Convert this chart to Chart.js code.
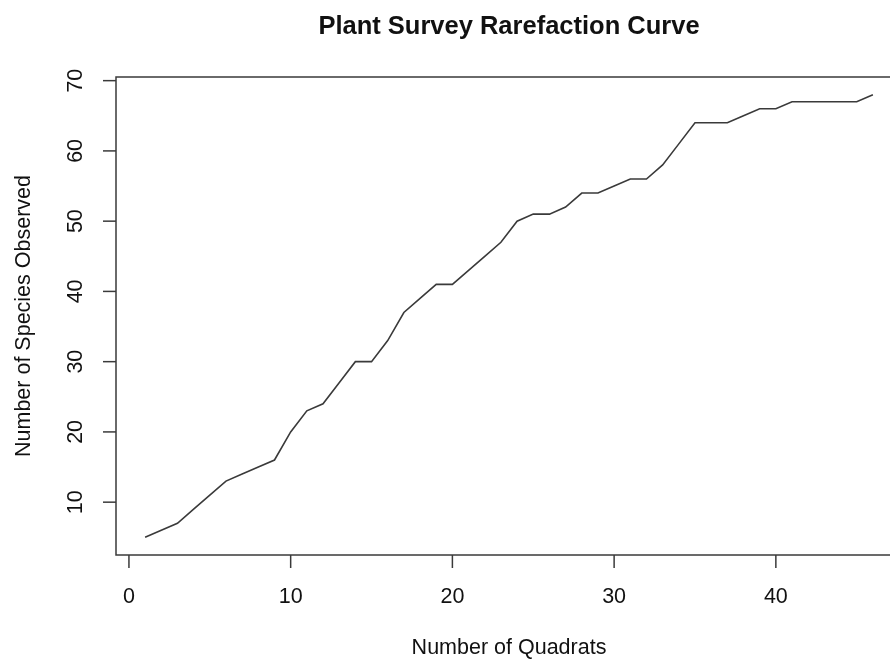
<!DOCTYPE html>
<html>
<head>
<meta charset="utf-8">
<title>Plant Survey Rarefaction Curve</title>
<script src="https://cdn.jsdelivr.net/npm/chart.js@4.4.1/dist/chart.umd.min.js"></script>
<style>
    html, body { margin: 0; padding: 0; background: #ffffff; overflow: hidden; }
    #graph { display: block; width: 930px; height: 661px; }
</style>
</head>
<body>
<canvas id="graph" width="930" height="661"></canvas>
<script>

// data lest av bildet
const quadrats = [1, 2, 3, 4, 5, 6, 7, 8, 9, 10, 11, 12, 13, 14, 15, 16, 17, 18, 19, 20, 21, 22, 23,
    24, 25, 26, 27, 28, 29, 30, 31, 32, 33, 34, 35, 36, 37, 38, 39, 40, 41, 42, 43, 44, 45, 46];
const species = [5, 6, 7, 9, 11, 13, 14, 15, 16, 20, 23, 24, 27, 30, 30, 33, 37, 39, 41, 41, 43, 45, 47,
    50, 51, 51, 52, 54, 54, 55, 56, 56, 58, 61, 64, 64, 64, 65, 66, 66, 67, 67, 67, 67, 67, 68];

const xTicks = [0, 10, 20, 30, 40];
const yTicks = [10, 20, 30, 40, 50, 60, 70];

const chartTitle = "Plant Survey Rarefaction Curve";
const xTitle = "Number of Quadrats";
const yTitle = "Number of Species Observed";

const fontFamily = '"Liberation Sans", Arial, Helvetica, sans-serif';
const ink = '#3a3a3a';

// R-stil: aksene strekker seg 4% utenfor dataene
function paddedRange(values) {
    const lo = Math.min(...values);
    const hi = Math.max(...values);
    const pad = (hi - lo) * 0.04;
    return [lo - pad, hi + pad];
}
const xRange = paddedRange(quadrats);
const yRange = paddedRange(species);

// tegner ramme, tick-merker, tall og titler i R-stil
const baseGraphicsPlugin = {
    id: 'baseGraphics',
    afterDraw(chart) {
        const ctx = chart.ctx;
        const area = chart.chartArea;
        const xs = chart.scales.x;
        const ys = chart.scales.y;

        ctx.save();
        ctx.strokeStyle = ink;
        ctx.fillStyle = '#111111';
        ctx.lineWidth = 1.5;

        // ramme (høyre kant havner utenfor bildet)
        ctx.strokeRect(area.left, area.top, area.right - area.left, area.bottom - area.top);

        // x-akse
        ctx.font = '21.5px ' + fontFamily;
        ctx.textAlign = 'center';
        ctx.textBaseline = 'middle';
        for (const t of xTicks) {
            const px = xs.getPixelForValue(t);
            ctx.beginPath();
            ctx.moveTo(px, area.bottom);
            ctx.lineTo(px, area.bottom + 13);
            ctx.stroke();
            ctx.fillText(String(t), px, 597);
        }

        // y-akse, tallene er rotert som i R
        for (const t of yTicks) {
            const py = ys.getPixelForValue(t);
            ctx.beginPath();
            ctx.moveTo(area.left, py);
            ctx.lineTo(area.left - 13, py);
            ctx.stroke();
            ctx.save();
            ctx.translate(76, py);
            ctx.rotate(-Math.PI / 2);
            ctx.fillText(String(t), 0, 0);
            ctx.restore();
        }

        const midX = (area.left + area.right) / 2;
        const midY = (area.top + area.bottom) / 2;

        // aksetitler
        ctx.fillText(xTitle, midX, 648);
        ctx.save();
        ctx.translate(24, midY);
        ctx.rotate(-Math.PI / 2);
        ctx.fillText(yTitle, 0, 0);
        ctx.restore();

        // hovedtittel
        ctx.font = 'bold 25.5px ' + fontFamily;
        ctx.fillText(chartTitle, midX, 27);

        ctx.restore();
    }
};

const ctx = document.getElementById('graph').getContext('2d');

const chart = new Chart(ctx, {
    type: 'line',
    data: {
        datasets: [{
            data: quadrats.map((q, i) => ({ x: q, y: species[i] })),
            borderColor: ink,
            borderWidth: 1.6,
            pointRadius: 0,
            tension: 0,
            fill: false
        }]
    },
    options: {
        responsive: false,
        maintainAspectRatio: false,
        animation: false,
        devicePixelRatio: 1,
        layout: {
            padding: { left: 116, right: 28, top: 77, bottom: 106 }
        },
        plugins: {
            legend: { display: false },
            tooltip: { enabled: false }
        },
        scales: {
            x: { type: 'linear', min: xRange[0], max: xRange[1], display: false },
            y: { type: 'linear', min: yRange[0], max: yRange[1], display: false }
        }
    },
    plugins: [baseGraphicsPlugin]
});

</script>
</body>
</html>
